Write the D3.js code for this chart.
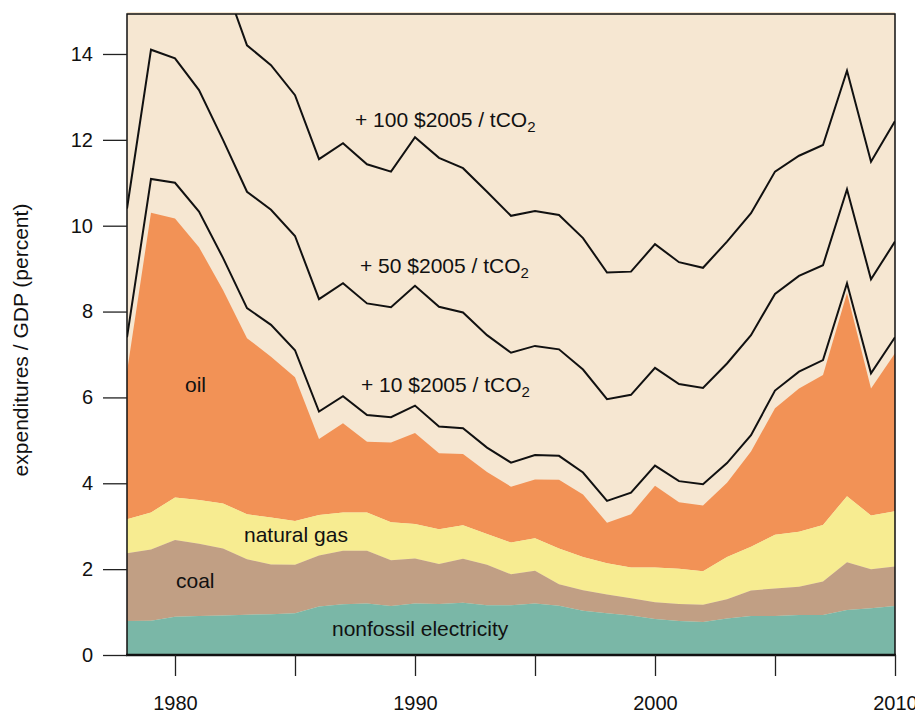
<!DOCTYPE html>
<html>
<head>
<meta charset="utf-8">
<script src="https://cdn.jsdelivr.net/npm/d3@7"></script>
<style>
  body { margin: 0; background: #fff; }
  text { font-family: "Liberation Sans", Arial, Helvetica, sans-serif; fill: #111; }
</style>
</head>
<body>
<div id="chart"></div>
<script>
// years on the x axis
var years = d3.range(1978, 2011);

// top of each stacked band, percent of GDP
var nonfossilTop = [0.79, 0.80, 0.89, 0.91, 0.92, 0.94, 0.95, 0.97, 1.13, 1.18, 1.20, 1.14, 1.20,
  1.19, 1.22, 1.16, 1.16, 1.20, 1.15, 1.03, 0.97, 0.92, 0.84, 0.79, 0.77, 0.85, 0.91, 0.91, 0.93, 0.93, 1.05, 1.09, 1.14];
var coalTop = [2.37, 2.46, 2.68, 2.59, 2.48, 2.23, 2.11, 2.10, 2.32, 2.43, 2.43, 2.21, 2.25,
  2.12, 2.24, 2.10, 1.88, 1.96, 1.65, 1.51, 1.41, 1.32, 1.23, 1.19, 1.17, 1.30, 1.50, 1.55, 1.59, 1.71, 2.16, 2.00, 2.06];
var gasTop = [3.16, 3.32, 3.67, 3.61, 3.53, 3.28, 3.20, 3.12, 3.26, 3.32, 3.32, 3.09, 3.05,
  2.93, 3.02, 2.82, 2.62, 2.72, 2.48, 2.28, 2.14, 2.04, 2.04, 2.01, 1.95, 2.28, 2.52, 2.80, 2.87, 3.03, 3.70, 3.25, 3.35];
var oilTop = [6.60, 10.30, 10.17, 9.50, 8.50, 7.38, 6.95, 6.47, 5.03, 5.40, 4.97, 4.95, 5.17,
  4.70, 4.68, 4.26, 3.92, 4.09, 4.08, 3.74, 3.08, 3.28, 3.94, 3.56, 3.48, 4.01, 4.74, 5.75, 6.21, 6.52, 8.43, 6.21, 7.03];

// total with a carbon price added
var co2at10 = [7.40, 11.09, 11.00, 10.33, 9.25, 8.08, 7.69, 7.10, 5.67, 6.03, 5.59, 5.54, 5.81,
  5.32, 5.28, 4.83, 4.48, 4.66, 4.64, 4.25, 3.59, 3.78, 4.41, 4.05, 3.98, 4.47, 5.12, 6.16, 6.60, 6.87, 8.66, 6.56, 7.40];
var co2at50 = [10.40, 14.10, 13.90, 13.16, 12.00, 10.79, 10.37, 9.76, 8.29, 8.66, 8.19, 8.10, 8.60,
  8.11, 7.98, 7.45, 7.04, 7.20, 7.12, 6.65, 5.96, 6.06, 6.69, 6.31, 6.22, 6.79, 7.45, 8.41, 8.83, 9.08, 10.85, 8.75, 9.63];
var co2at100 = [16.50, 17.90, 17.60, 16.80, 15.76, 14.20, 13.74, 13.04, 11.55, 11.92, 11.43, 11.26, 12.06,
  11.58, 11.34, 10.79, 10.23, 10.34, 10.25, 9.71, 8.91, 8.93, 9.57, 9.15, 9.02, 9.63, 10.29, 11.26, 11.63, 11.88, 13.61, 11.49, 12.44];

var yTicks = [0, 2, 4, 6, 8, 10, 12, 14];
var xTicks = [1980, 1985, 1990, 1995, 2000, 2005, 2010];

var svgWidth = 915;
var svgHeight = 715;
var margin = { top: 14, right: 20, bottom: 60, left: 127 };
var width = svgWidth - margin.left - margin.right;
var height = svgHeight - margin.top - margin.bottom;

var svg = d3.select("#chart")
  .append("svg")
  .attr("width", svgWidth)
  .attr("height", svgHeight);

var chartGroup = svg.append("g")
  .attr("transform", `translate(${margin.left}, ${margin.top})`);

var xScale = d3.scaleLinear().domain([1978, 2010]).range([0, width]);
var yScale = d3.scaleLinear().domain([0, height / 42.93]).range([height, 0]);

chartGroup.append("clipPath")
  .attr("id", "plotClip")
  .append("rect")
  .attr("width", width)
  .attr("height", height);

//background (beige, carbon cost region)
chartGroup.append("rect")
  .attr("y", -2)
  .attr("width", width)
  .attr("height", height + 2)
  .attr("fill", "#f6e7d2");

var zeros = years.map(function() { return 0; });
var bands = [
  { lo: gasTop, hi: oilTop, color: "#f29256" },
  { lo: coalTop, hi: gasTop, color: "#f7ec91" },
  { lo: nonfossilTop, hi: coalTop, color: "#c19f84" },
  { lo: zeros, hi: nonfossilTop, color: "#7ab7a7" }
];

bands.forEach(function(b) {
  var area = d3.area()
    .x(function(d, i) { return xScale(years[i]); })
    .y0(function(d, i) { return yScale(b.lo[i]); })
    .y1(function(d, i) { return yScale(b.hi[i]); });
  chartGroup.append("path")
    .datum(years)
    .attr("d", area)
    .attr("fill", b.color);
});

var lineGen = d3.line()
  .x(function(d, i) { return xScale(years[i]); })
  .y(function(d) { return yScale(d); });

[co2at10, co2at50, co2at100].forEach(function(series) {
  chartGroup.append("path")
    .datum(series)
    .attr("d", lineGen)
    .attr("clip-path", "url(#plotClip)")
    .attr("fill", "none")
    .attr("stroke", "#111")
    .attr("stroke-width", 2)
    .attr("stroke-linejoin", "miter");
});

//frame
chartGroup.append("path")
  .attr("d", `M0,${height} V0 H${width} V${height}`)
  .attr("fill", "none")
  .attr("stroke", "#111")
  .attr("stroke-width", 1.5);
chartGroup.append("line")
  .attr("x1", -1).attr("x2", width + 1)
  .attr("y1", height).attr("y2", height)
  .attr("stroke", "#111")
  .attr("stroke-width", 2.5);

//axes
var yAxis = d3.axisLeft(yScale).tickValues(yTicks).tickSize(24).tickPadding(10);
var yG = chartGroup.append("g").call(yAxis);
yG.select(".domain").remove();
yG.selectAll("line").attr("stroke", "#222").attr("stroke-width", 1.3);
yG.selectAll("text").attr("font-size", 20).attr("font-family", null).attr("fill", "#111");

var xAxis = d3.axisBottom(xScale).tickValues(xTicks).tickSize(21).tickPadding(20)
  .tickFormat(function(d) { return d % 10 === 0 ? d : ""; });
var xG = chartGroup.append("g")
  .attr("transform", `translate(0, ${height})`)
  .call(xAxis);
xG.select(".domain").remove();
xG.selectAll("line").attr("stroke", "#222").attr("stroke-width", 1.3);
xG.selectAll("text").attr("font-size", 20).attr("font-family", null).attr("fill", "#111");

svg.append("text")
  .attr("transform", "translate(28, 340) rotate(-90)")
  .attr("text-anchor", "middle")
  .attr("font-size", 21)
  .text("expenditures / GDP (percent)");

//band labels (page coordinates)
var labels = [
  { text: "oil", x: 185, y: 392 },
  { text: "natural gas", x: 244, y: 542 },
  { text: "coal", x: 176, y: 588 },
  { text: "nonfossil electricity", x: 332, y: 636 }
];
labels.forEach(function(l) {
  svg.append("text")
    .attr("x", l.x)
    .attr("y", l.y)
    .attr("font-size", 21)
    .text(l.text);
});

var priceLabels = [
  { price: "100", x: 355, y: 127 },
  { price: "50", x: 360, y: 273 },
  { price: "10", x: 361, y: 392 }
];
priceLabels.forEach(function(p) {
  var t = svg.append("text")
    .attr("x", p.x)
    .attr("y", p.y)
    .attr("font-size", 21);
  t.append("tspan").text("+ " + p.price + " $2005 / tCO");
  t.append("tspan").attr("font-size", 15).attr("dy", 5).text("2");
});
</script>
</body>
</html>
